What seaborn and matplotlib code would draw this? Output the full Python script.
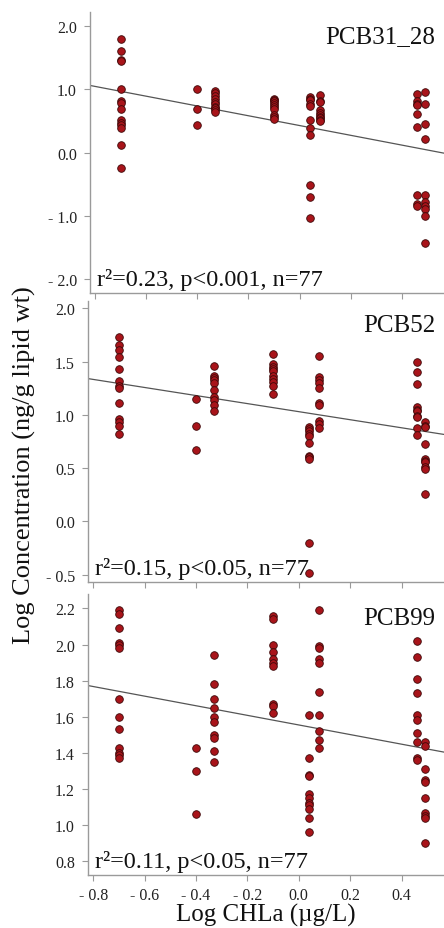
import numpy as np
import pandas as pd
import matplotlib
matplotlib.use("Agg")
import matplotlib.pyplot as plt
import seaborn as sns
from matplotlib.ticker import FuncFormatter, MultipleLocator

# Sampling sites (log chlorophyll-a, ug/L)
sites = [-0.70, -0.40, -0.33, -0.10, 0.04, 0.08, 0.46, 0.49]

# Log PCB concentrations (ng/g lipid wt), grouped by site
pcb31_28 = [
    [1.80, 1.60, 1.46, 1.44, 1.00, 0.82, 0.79, 0.68, 0.52, 0.46, 0.43, 0.38, 0.12, -0.24],
    [1.01, 0.69, 0.43],
    [0.97, 0.94, 0.90, 0.85, 0.80, 0.76, 0.72, 0.70, 0.67, 0.64],
    [0.85, 0.83, 0.82, 0.78, 0.75, 0.72, 0.68, 0.60, 0.56, 0.53],
    [0.87, 0.85, 0.83, 0.76, 0.74, 0.52, 0.38, 0.27, -0.51, -0.70, -1.04],
    [0.91, 0.82, 0.80, 0.67, 0.63, 0.59, 0.56, 0.55, 0.52, 0.49],
    [0.93, 0.81, 0.77, 0.75, 0.61, 0.41, -0.67, -0.82, -0.84],
    [0.96, 0.76, 0.45, 0.21, -0.67, -0.78, -0.84, -0.90, -1.00, -1.43],
]
pcb52 = [
    [1.73, 1.66, 1.61, 1.54, 1.43, 1.32, 1.27, 1.25, 1.11, 0.96, 0.93, 0.90, 0.82],
    [1.15, 0.90, 0.67],
    [1.46, 1.37, 1.35, 1.33, 1.30, 1.23, 1.17, 1.14, 1.09, 1.04],
    [1.57, 1.48, 1.45, 1.43, 1.41, 1.37, 1.34, 1.31, 1.27, 1.20],
    [0.89, 0.87, 0.85, 0.82, 0.80, 0.74, 0.61, 0.60, 0.59, -0.20, -0.49],
    [1.55, 1.36, 1.33, 1.30, 1.25, 1.11, 1.09, 0.94, 0.91, 0.88],
    [1.50, 1.40, 1.29, 1.07, 1.05, 1.04, 0.99, 0.98, 0.88, 0.81],
    [0.93, 0.90, 0.89, 0.73, 0.59, 0.57, 0.56, 0.51, 0.49, 0.26],
]
pcb99 = [
    [2.19, 2.17, 2.09, 2.01, 2.00, 1.98, 1.70, 1.60, 1.53, 1.43, 1.40, 1.39, 1.37],
    [1.43, 1.30, 1.06],
    [1.94, 1.78, 1.70, 1.65, 1.60, 1.57, 1.50, 1.48, 1.41, 1.35],
    [2.16, 2.14, 2.00, 1.96, 1.92, 1.90, 1.88, 1.67, 1.66, 1.62],
    [1.61, 1.37, 1.28, 1.27, 1.17, 1.15, 1.12, 1.11, 1.09, 1.04, 0.96],
    [2.19, 1.99, 1.98, 1.92, 1.90, 1.74, 1.61, 1.52, 1.47, 1.43],
    [2.02, 1.93, 1.81, 1.73, 1.61, 1.58, 1.51, 1.46, 1.37, 1.36],
    [1.46, 1.44, 1.31, 1.25, 1.24, 1.15, 1.07, 1.05, 1.04, 0.90],
]

names = ["PCB31_28", "PCB52", "PCB99"]
series = [pcb31_28, pcb52, pcb99]
stats = ["r\u00b2=0.23, p<0.001, n=77",
         "r\u00b2=0.15, p<0.05, n=77",
         "r\u00b2=0.11, p<0.05, n=77"]
ylims = [(-2.22, 2.22), (-0.57, 2.07), (0.724, 2.28)]
ysteps = [1.0, 0.5, 0.2]
xlim = (-0.82, 0.565)
xticks = [-0.8, -0.6, -0.4, -0.2, 0.0, 0.2, 0.4]


def to_frame(groups):
    xs, ys = [], []
    for x, vals in zip(sites, groups):
        xs += [x] * len(vals)
        ys += vals
    return pd.DataFrame({"chla": xs, "conc": ys})


def fmt(v, _pos):
    s = f"{abs(v):.1f}"
    return ("- " + s) if v < -1e-9 else s


sns.set_theme(style="ticks")
plt.rcParams["font.family"] = ["Liberation Serif", "DejaVu Serif"]

W, H = 444, 929
fig = plt.figure(figsize=(W / 100, H / 100), dpi=100)

# axes boxes in pixels: left, top, right, bottom
boxes = [(90, 13, 444, 294), (88, 302, 444, 583), (88, 595, 444, 876)]
spine_c = "#9a9a9a"
ink = "#111111"

for i, (name, groups, st, yl, ys, box) in enumerate(
        zip(names, series, stats, ylims, ysteps, boxes)):
    l, t, r, b = box
    ax = fig.add_axes([l / W, 1 - b / H, (r - l) / W, (b - t) / H])
    df = to_frame(groups)
    ax.set_xlim(*xlim)
    ax.set_ylim(*yl)
    sns.regplot(data=df, x="chla", y="conc", ax=ax, ci=None, truncate=False,
                scatter_kws=dict(s=30, color="#a8141a", edgecolor="#3c0808",
                                 linewidths=0.6, alpha=1, zorder=3),
                line_kws=dict(color="#555555", lw=0.9, zorder=2))
    ax.set_xlim(*xlim)
    ax.set_ylim(*yl)
    ax.set_xlabel("")
    ax.set_ylabel("")
    sns.despine(ax=ax)
    for sp in ("left", "bottom"):
        ax.spines[sp].set_color(spine_c)
        ax.spines[sp].set_linewidth(1.0)
    ax.set_xticks(xticks)
    ax.yaxis.set_major_locator(MultipleLocator(ys))
    ax.yaxis.set_major_formatter(FuncFormatter(fmt))
    ax.xaxis.set_major_formatter(FuncFormatter(fmt))
    ax.tick_params(axis="both", direction="out", length=4.5, width=0.8,
                   color=spine_c, labelsize=11.5, labelcolor="#222222")
    ax.tick_params(axis="y", pad=5)
    ax.tick_params(axis="x", pad=4)
    if i < 2:
        ax.tick_params(axis="x", labelbottom=False)
    ax.text(0.975, 0.955, name, transform=ax.transAxes, ha="right", va="top",
            fontsize=18, color=ink)
    ax.text(0.02, 0.012, st, transform=ax.transAxes, ha="left", va="bottom",
            fontsize=17.5, color=ink)
    if i == 2:
        ax.set_xlabel("Log CHLa (\u00b5g/L)", fontsize=18, labelpad=0,
                      color=ink)

fig.text(24 / W, 1 - 465 / H, "Log Concentration (ng/g lipid wt)",
         rotation=90, ha="center", va="center", fontsize=19, color=ink)

fig.savefig("out.png", dpi=100)
